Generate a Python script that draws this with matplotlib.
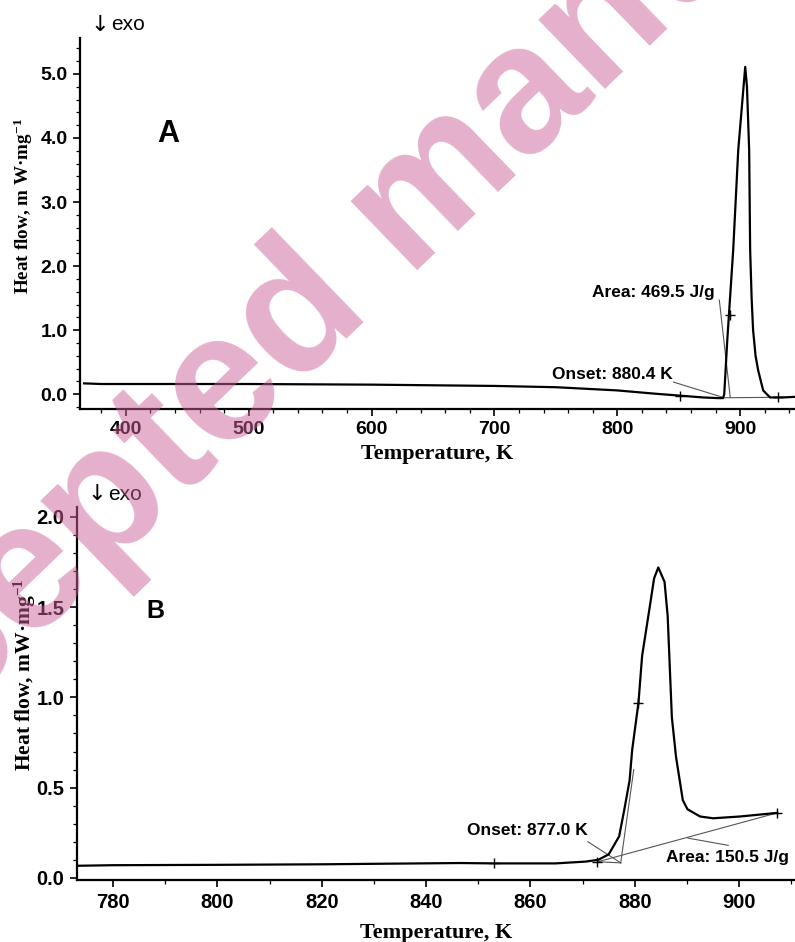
import matplotlib
matplotlib.use("Agg")
import matplotlib.pyplot as plt
from matplotlib.ticker import MultipleLocator, FormatStrFormatter

plt.rcParams['mathtext.default'] = 'regular'

# ---------------- data: panel A ----------------
temp_a = [366, 380, 400, 450, 500, 550, 600, 650, 700, 750, 800, 830, 850, 870,
          882, 886, 887.0, 889.5, 894.3, 898.4, 902.5, 904.1, 905.5, 907.3, 908.1,
          909.3, 910.5, 912.5, 914.6, 918.7, 924.3, 935, 945]
heat_a = [0.17, 0.16, 0.16, 0.16, 0.16, 0.155, 0.15, 0.14, 0.13, 0.11, 0.06, 0.01, -0.02, -0.05,
          -0.06, -0.06, 0.0, 0.85, 2.25, 3.81, 4.75, 5.11, 4.8, 3.81, 2.25,
          1.5, 1.0, 0.6, 0.375, 0.06, -0.05, -0.05, -0.04]
marks_a_t = [851.3, 891.9, 930.8]
marks_a_h = [-0.03, 1.23, -0.05]
onset_a = "Onset: 880.4 K"
area_a = "Area: 469.5 J/g"

# ---------------- data: panel B ----------------
temp_b = [773.5, 780, 800, 820, 831, 846.5, 853, 864.8, 870.6, 873, 875, 877, 878, 879,
          879.5, 880.7, 881.4, 882.8, 883.7, 884.5, 885.7, 886.3, 886.7, 887.1, 887.9,
          889.2, 890.1, 892.5, 895, 900.2, 907.3]
heat_b = [0.067, 0.07, 0.072, 0.075, 0.078, 0.082, 0.08, 0.08, 0.09, 0.10, 0.13, 0.23, 0.38, 0.54,
          0.71, 0.97, 1.23, 1.49, 1.66, 1.72, 1.64, 1.45, 1.17, 0.89, 0.67,
          0.43, 0.38, 0.34, 0.33, 0.34, 0.36]
marks_b_t = [853, 872.8, 880.7, 907.3]
marks_b_h = [0.08, 0.09, 0.97, 0.36]
onset_b = "Onset: 877.0 K"
area_b = "Area: 150.5 J/g"

xticks_a = [400, 500, 600, 700, 800, 900]
yticks_a = [0.0, 1.0, 2.0, 3.0, 4.0, 5.0]
xticks_b = [780, 800, 820, 840, 860, 880, 900]
yticks_b = [0.0, 0.5, 1.0, 1.5, 2.0]

W, H = 795, 942
fig = plt.figure(figsize=(W / 100, H / 100), dpi=100)

sans = ['Liberation Sans', 'DejaVu Sans']
serif = ['Liberation Serif', 'DejaVu Serif']
thin = dict(color='#555555', lw=0.8)


def style(ax, xt, yt, xminor, yminor, fs):
    for s in ['top', 'right']:
        ax.spines[s].set_visible(False)
    for s in ['left', 'bottom']:
        ax.spines[s].set_linewidth(1.6)
    ax.set_xticks(xt)
    ax.set_yticks(yt)
    ax.xaxis.set_minor_locator(MultipleLocator(xminor))
    ax.yaxis.set_minor_locator(MultipleLocator(yminor))
    ax.yaxis.set_major_formatter(FormatStrFormatter('%.1f'))
    ax.tick_params(which='major', direction='out', length=5, width=1.2, pad=4)
    ax.tick_params(which='minor', direction='out', length=3, width=0.9)
    for lab in ax.get_xticklabels() + ax.get_yticklabels():
        lab.set_family(sans)
        lab.set_fontweight('bold')
        lab.set_fontsize(fs)


def exo_label(x_px, y_px):
    fig.text(x_px / W, 1 - y_px / H, '↓', family=['DejaVu Sans'], fontsize=16,
             ha='left', va='center')
    fig.text((x_px + 21) / W, 1 - y_px / H, 'exo', family=sans, fontsize=15,
             ha='left', va='center')


# ---------- Panel A ----------
axA = fig.add_axes([80 / W, 1 - 409 / H, 1 - 80 / W, (409 - 38) / H])
axA.plot(temp_a, heat_a, color='black', lw=1.6, zorder=3)
axA.plot(marks_a_t, marks_a_h, ls='none', marker='+', ms=7, mew=1.0, color='black', zorder=4)
axA.plot([884, 945], [-0.055, -0.045], **thin)
axA.plot([845.7, 886.2], [0.19, -0.05], **thin)
axA.plot([883, 891.9], [1.47, -0.05], **thin)
axA.set_xlim(362.7, 944.6)
axA.set_ylim(-0.23, 5.56)
style(axA, xticks_a, yticks_a, 20, 0.2, 14)
axA.text(844.8, 0.31, onset_a, ha='right', va='center', fontsize=12.5,
         fontweight='bold', family=sans)
axA.text(879.0, 1.59, area_a, ha='right', va='center', fontsize=12.5,
         fontweight='bold', family=sans)
axA.set_xlabel('Temperature, K', family=serif, fontweight='bold', fontsize=16, labelpad=4)
axA.set_ylabel('Heat flow, m W·mg$^{-1}$', family=serif, fontweight='bold', fontsize=13.8)
axA.yaxis.label.set_va('center')
axA.yaxis.set_label_coords((23 - 80) / 715, 0.547)
exo_label(90, 25)
fig.text(168 / W, 1 - 134 / H, 'A', family=sans, fontsize=22, fontweight='bold',
         ha='center', va='center')

# ---------- Panel B ----------
axB = fig.add_axes([77 / W, 1 - 880 / H, 1 - 77 / W, (880 - 507) / H])
axB.plot(temp_b, heat_b, color='black', lw=1.6, zorder=3)
axB.plot(marks_b_t, marks_b_h, ls='none', marker='+', ms=7, mew=1.0, color='black', zorder=4)
axB.plot([872.9, 907.3], [0.089, 0.36], **thin)
axB.plot([872.9, 877.3], [0.089, 0.083], **thin)
axB.plot([877.3, 879.8], [0.083, 0.6], **thin)
axB.plot([871.0, 877.3], [0.2, 0.083], **thin)
axB.plot([890.2, 897.9], [0.22, 0.18], **thin)
axB.set_xlim(773.1, 910.7)
axB.set_ylim(-0.012, 2.055)
style(axB, xticks_b, yticks_b, 10, 0.1, 14.5)
axB.text(871.0, 0.26, onset_b, ha='right', va='center', fontsize=12.5,
         fontweight='bold', family=sans)
axB.text(885.9, 0.11, area_b, ha='left', va='center', fontsize=12.5,
         fontweight='bold', family=sans)
axB.set_xlabel('Temperature, K', family=serif, fontweight='bold', fontsize=16, labelpad=8)
axB.set_ylabel('Heat flow, mW·mg$^{-1}$', family=serif, fontweight='bold', fontsize=15.5)
axB.yaxis.label.set_va('center')
axB.yaxis.set_label_coords((25 - 77) / 718, 0.55)
exo_label(87, 494)
fig.text(155 / W, 1 - 611 / H, 'B', family=sans, fontsize=18, fontweight='bold',
         ha='center', va='center')

# ---------- watermark ----------
fig.text(-211 / W, 1 - 878 / H, 'Accepted manuscript', family=sans, fontweight='bold',
         fontsize=130, rotation=44, rotation_mode='anchor', ha='left', va='baseline',
         color=(0.80, 0.38, 0.60), alpha=0.5, zorder=10)

fig.savefig('out.png', dpi=100)
